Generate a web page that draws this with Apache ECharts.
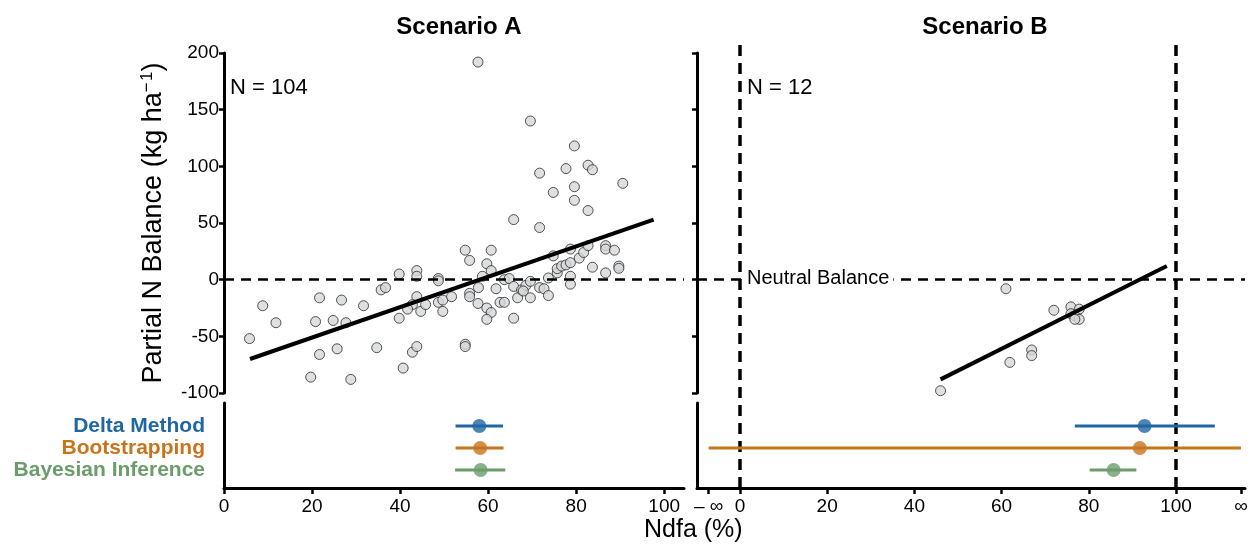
<!DOCTYPE html>
<html>
<head>
<meta charset="utf-8">
<script src="https://cdn.jsdelivr.net/npm/echarts@6/dist/echarts.min.js"></script>
<style>
    html, body { margin: 0; padding: 0; background: #fff; }
    #chart { width: 1253px; height: 547px; }
</style>
</head>
<body>
<div id="chart"></div>
<script>
// Scenario A points [Ndfa %, partial N balance]
var scenA = [
    [5.8, -52], [8.8, -23], [11.8, -38], [21.7, -16], [20.8, -37], [21.7, -66], [19.7, -86],
    [26.7, -18], [24.8, -36], [27.7, -38], [25.7, -61], [28.8, -88], [31.7, -23], [34.7, -60],
    [35.7, -9], [36.7, -7], [39.8, 5], [39.8, -34], [40.7, -78], [42.8, -64], [43.8, -59],
    [43.8, 8], [43.8, 3], [43.8, -15], [42.8, -22], [41.7, -26], [44.7, -28], [45.8, -22],
    [48.7, 1], [48.7, -1], [48.7, -20], [49.7, -28], [49.7, -18], [51.7, -15],
    [57.7, 192], [69.6, 140], [79.6, 118], [77.7, 98], [82.7, 101], [83.7, 97], [71.7, 94],
    [90.6, 85], [79.6, 82], [74.8, 77], [79.6, 70], [82.7, 61], [65.8, 53], [71.7, 46],
    [54.8, 26], [60.7, 26], [55.8, 17], [59.7, 14], [60.7, 8], [58.7, 3], [63.7, 0], [64.8, 1],
    [57.8, -7], [61.8, -8], [55.8, -12], [55.8, -15], [57.7, -21], [59.7, -25], [60.7, -29],
    [59.7, -35], [62.7, -20], [63.7, -20], [65.8, -34], [65.8, -6], [66.7, -16], [67.6, -9],
    [68.6, -5], [68.0, -10], [69.6, -1.5], [69.6, -16], [71.7, -7], [72.7, -8], [73.7, -14],
    [73.7, 1.5], [75.7, 6], [75.7, 9.7], [76.7, 12], [77.7, 13], [78.7, 15], [74.8, 21],
    [78.7, 27], [80.7, 19], [81.7, 24], [82.7, 30], [78.7, 3], [78.7, -4], [83.7, 11],
    [86.7, 6], [86.7, 30], [86.7, 27], [88.7, 26], [89.7, 12], [89.7, 10], [54.8, -57], [54.8, -59]
];
var scenB = [
    [61.0, -8], [72.0, -27], [75.9, -24], [77.8, -26], [75.9, -30], [76.8, -32],
    [77.8, -35], [76.8, -35], [66.9, -62], [66.9, -67], [61.9, -73], [46.0, -98]
];
var fitA = [[5.9, -70], [97.6, 53]];
var fitB = [[46.0, -88], [97.9, 12]];

var NEG_INF = -7.2;
var POS_INF = 114.9;

var methods = ['Delta Method', 'Bootstrapping', 'Bayesian Inference'];
var methodRow = [3, 2, 1];
var methodColors = ['#1f66a3', '#c8741d', '#6b9d6b'];
var estA = [58.0, 58.2, 58.3];
var loA = [52.6, 52.6, 52.5];
var hiA = [63.4, 63.5, 63.9];
var estB = [92.8, 91.7, 85.7];
var loB = [76.8, NEG_INF, 80.2];
var hiB = [108.9, POS_INF, 90.9];

var xTicksA = [0, 20, 40, 60, 80, 100];
var xTicksB = [NEG_INF, 0, 20, 40, 60, 80, 100, POS_INF];

var FONT = '"Liberation Sans", Arial, sans-serif';

var myChart = echarts.init(document.getElementById('chart'));

var axisLine = {show: true, onZero: false, lineStyle: {color: '#000', width: 3}};
var noSplit = {show: false};

function methodSeries(est, lo, hi, xi, yi) {
    var list = [];
    for (var i = 0; i < methods.length; i++) {
        list.push({
            type: 'line',
            xAxisIndex: xi,
            yAxisIndex: yi,
            data: [[lo[i], methodRow[i]], [hi[i], methodRow[i]]],
            symbol: 'none',
            silent: true,
            lineStyle: {color: methodColors[i], width: 3}
        });
        list.push({
            type: 'scatter',
            xAxisIndex: xi,
            yAxisIndex: yi,
            data: [[est[i], methodRow[i]]],
            symbolSize: 14,
            z: 5,
            itemStyle: {color: methodColors[i]}
        });
    }
    return list;
}

var zeroLine = {
    silent: true,
    symbol: 'none',
    label: {show: false},
    lineStyle: {color: '#000', width: 2.5, type: [10, 7]},
    data: [{yAxis: 0}]
};

var series = [
    {
        type: 'scatter', xAxisIndex: 0, yAxisIndex: 0, data: scenA, symbolSize: 10, z: 3,
        itemStyle: {color: '#d6d7da', borderColor: '#2a2a2a', borderWidth: 1},
        markLine: zeroLine
    },
    {
        type: 'line', xAxisIndex: 0, yAxisIndex: 0, data: fitA, symbol: 'none', z: 4,
        lineStyle: {color: '#000', width: 4}
    },
    {
        type: 'scatter', xAxisIndex: 1, yAxisIndex: 1, data: scenB, symbolSize: 10, z: 3,
        itemStyle: {color: '#d6d7da', borderColor: '#2a2a2a', borderWidth: 1},
        markLine: zeroLine
    },
    {
        type: 'line', xAxisIndex: 1, yAxisIndex: 1, data: fitB, symbol: 'none', z: 4,
        lineStyle: {color: '#000', width: 4}
    },
    // vertical reference lines at 0 and 100 % in scenario B
    {
        type: 'line', xAxisIndex: 4, yAxisIndex: 4, data: [[0, 0], [0, 1]], symbol: 'none', z: 1,
        lineStyle: {color: '#000', width: 3.5, type: [11, 7]}
    },
    {
        type: 'line', xAxisIndex: 4, yAxisIndex: 4, data: [[100, 0], [100, 1]], symbol: 'none', z: 1,
        lineStyle: {color: '#000', width: 3.5, type: [11, 7]}
    }
].concat(methodSeries(estA, loA, hiA, 2, 2), methodSeries(estB, loB, hiB, 3, 3));

var option = {
    animation: false,
    textStyle: {fontFamily: FONT},
    title: [
        {text: 'Scenario A', left: 454, top: 10, textAlign: 'center',
            textStyle: {fontSize: 24, fontWeight: 'bold', color: '#000', fontFamily: FONT}},
        {text: 'Scenario B', left: 980, top: 10, textAlign: 'center',
            textStyle: {fontSize: 24, fontWeight: 'bold', color: '#000', fontFamily: FONT}}
    ],
    grid: [
        {left: 224, top: 53, width: 460, height: 340, outerBoundsMode: 'none'},
        {left: 697, top: 53, width: 548, height: 340, outerBoundsMode: 'none'},
        {left: 224, top: 403, width: 460, height: 85, outerBoundsMode: 'none'},
        {left: 697, top: 403, width: 548, height: 85, outerBoundsMode: 'none'},
        {left: 697, top: 45, width: 548, height: 443, outerBoundsMode: 'none'}
    ],
    xAxis: [
        {gridIndex: 0, type: 'value', min: 0, max: 104.5, show: false},
        {gridIndex: 1, type: 'value', min: -9.86, max: 115.83, show: false},
        {
            gridIndex: 2, type: 'value', min: 0, max: 104.5,
            axisLine: axisLine, splitLine: noSplit,
            axisTick: {show: true, customValues: xTicksA, length: 6, lineStyle: {color: '#000', width: 2.5}},
            axisLabel: {customValues: xTicksA, fontSize: 19, color: '#000', margin: 9}
        },
        {
            gridIndex: 3, type: 'value', min: -9.86, max: 115.83,
            axisLine: axisLine, splitLine: noSplit,
            axisTick: {show: true, customValues: xTicksB, length: 6, lineStyle: {color: '#000', width: 2.5}},
            axisLabel: {
                customValues: xTicksB, fontSize: 19, color: '#000', margin: 9,
                formatter: function (v) {
                    if (v == NEG_INF) return '\u2013 \u221e';
                    if (v == POS_INF) return '\u221e';
                    return String(v);
                }
            }
        },
        {gridIndex: 4, type: 'value', min: -9.86, max: 115.83, show: false}
    ],
    yAxis: [
        {
            gridIndex: 0, type: 'value', min: -100, max: 200, interval: 50,
            axisLine: axisLine, splitLine: noSplit,
            axisTick: {show: true, length: 5, lineStyle: {color: '#000', width: 2.5}},
            axisLabel: {fontSize: 19, color: '#000', margin: 5},
            name: 'Partial N Balance (kg ha{sup|\u2212\u200a1})',
            nameLocation: 'middle',
            nameGap: 56,
            nameTextStyle: {
                fontSize: 27, color: '#000', fontFamily: FONT,
                rich: {sup: {fontSize: 17, color: '#000', fontFamily: FONT, verticalAlign: 'top', padding: [0, 0, 12, 0]}}
            }
        },
        {
            gridIndex: 1, type: 'value', min: -100, max: 200, interval: 50,
            axisLine: axisLine, splitLine: noSplit,
            axisTick: {show: true, length: 5, lineStyle: {color: '#000', width: 2.5}},
            axisLabel: {show: false}
        },
        {
            gridIndex: 2, type: 'value', min: 0.18, max: 4.05,
            axisLine: axisLine, splitLine: noSplit, axisTick: {show: false},
            axisLabel: {
                customValues: methodRow, fontSize: 21, fontWeight: 'bold', margin: 19,
                formatter: function (v) { return methods[methodRow.indexOf(Number(v))]; },
                color: function (v) { return methodColors[methodRow.indexOf(Number(v))]; }
            }
        },
        {
            gridIndex: 3, type: 'value', min: 0.18, max: 4.05,
            axisLine: axisLine, splitLine: noSplit, axisTick: {show: false}, axisLabel: {show: false}
        },
        {gridIndex: 4, type: 'value', min: 0, max: 1, show: false}
    ],
    graphic: [
        {type: 'text', left: 230, top: 77, z: 100,
            style: {text: 'N = 104', font: '22px ' + FONT, fill: '#000'}},
        {type: 'text', left: 747, top: 77, z: 100,
            style: {text: 'N = 12', font: '22px ' + FONT, fill: '#000'}},
        {type: 'text', left: 744, top: 268, z: 100,
            style: {text: 'Neutral Balance', font: '20px ' + FONT, fill: '#000',
                backgroundColor: '#fff', padding: [0, 4, 0, 3]}},
        {type: 'text', left: 644, top: 518, z: 100,
            style: {text: 'Ndfa (%)', font: '25px ' + FONT, fill: '#000'}}
    ],
    series: series
};

myChart.setOption(option);
</script>
</body>
</html>
